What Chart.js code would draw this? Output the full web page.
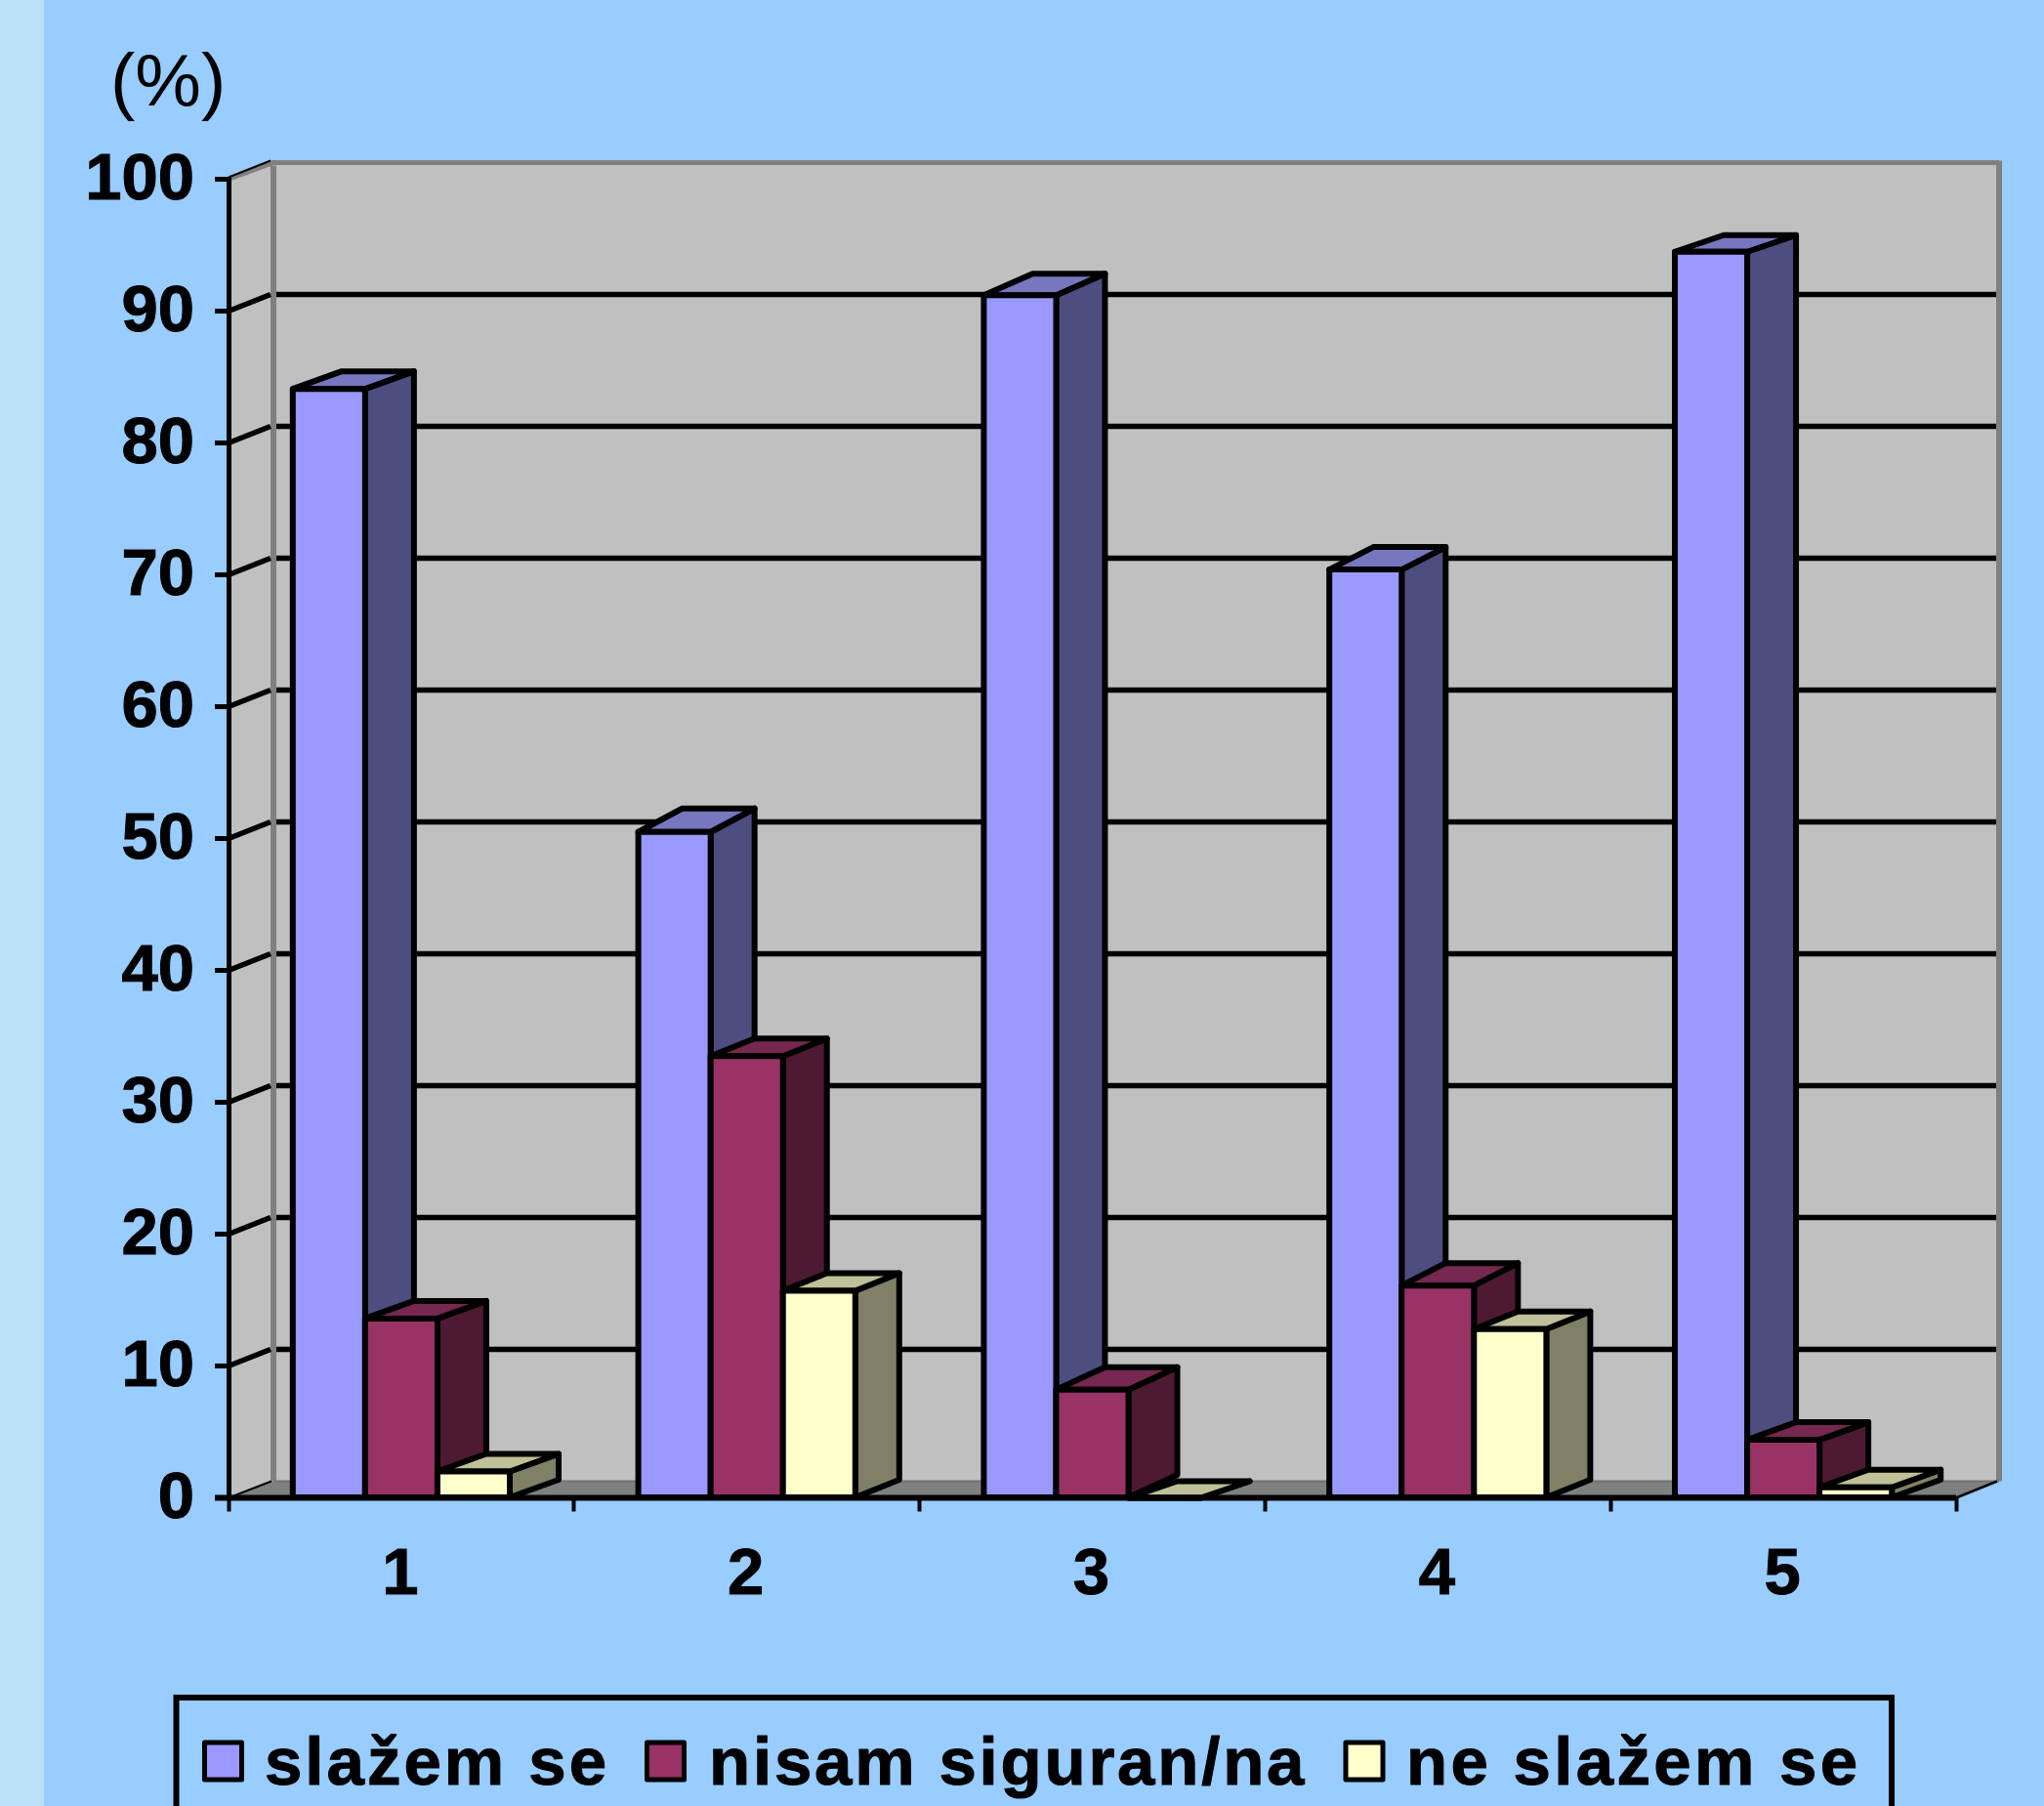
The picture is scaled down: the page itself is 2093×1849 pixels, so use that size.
<!DOCTYPE html>
<html><head><meta charset="utf-8">
<style>html,body{margin:0;padding:0;background:#99CCFF;width:2093px;height:1849px;overflow:hidden}canvas{display:block}</style>
<script src="https://cdn.jsdelivr.net/npm/chart.js@4"></script></head>
<body><canvas id="c" width="2093" height="1849"></canvas>
<script>
const categories = ['1','2','3','4','5'];
const seriesNames = ['slažem se','nisam siguran/na','ne slažem se'];
const agree = [84.1,50.5,91.2,70.4,94.5];
const unsure = [13.6,33.5,8.2,16.1,4.4];
const disagree = [2,15.7,0,12.8,0.8];
const yMax = 100, yStep = 10, unit = '(%)';

const FONT = '"Liberation Sans", Arial, sans-serif';
const BLACK = '#000000';
const faces = [
  {front:'#9999FF', side:'#4D4D80', top:'#7777C0'},
  {front:'#993366', side:'#4D1933', top:'#762850'},
  {front:'#FFFFCC', side:'#808066', top:'#C0C099'}
];
// Apparent depth of the extruded bars, per category and per series (drawing style only)
const depthX = [50,45,50,45,50];
const depthY = [[18,18,18],[24,18,18],[22,23,17],[23,23,18],[17,18,18]];
const WALL = {dx:46, dxRight:44, dy:17, fill:'#C0C0C0', edge:'#808080', floor:'#808080'};
const BAR_LINE = 6;

function poly(ctx, pts, fill, stroke, lw){
  ctx.beginPath();
  pts.forEach((p,i)=> i?ctx.lineTo(p[0],p[1]):ctx.moveTo(p[0],p[1]));
  ctx.closePath();
  if(fill){ctx.fillStyle=fill;ctx.fill();}
  if(stroke){ctx.strokeStyle=stroke;ctx.lineWidth=lw;ctx.lineJoin='round';ctx.stroke();}
}
function seg(ctx,x1,y1,x2,y2,c,w){ctx.beginPath();ctx.moveTo(x1,y1);ctx.lineTo(x2,y2);ctx.strokeStyle=c;ctx.lineWidth=w;ctx.lineCap='butt';ctx.stroke();}

const scene3d = {
  id:'scene3d',
  afterLayout(chart){
    // the unit label starts left of the axis column, over the tick labels
    if(chart.titleBlock) chart.titleBlock.left = 113;
  },
  beforeDraw(chart){
    const {ctx,chartArea:a,scales:{y}} = chart, d=WALL;
    ctx.save();
    ctx.fillStyle='#99CCFF';ctx.fillRect(0,0,chart.width,chart.height);
    ctx.fillStyle='#BBE2F9';ctx.fillRect(0,0,45,chart.height);
    const bl=a.left+d.dx, br=a.right+d.dxRight, bt=a.top-d.dy, bb=a.bottom-d.dy;
    poly(ctx,[[a.left,a.top],[bl,bt],[bl,bb],[a.left,a.bottom]],d.fill);
    poly(ctx,[[bl,bt],[br,bt],[br,bb],[bl,bb]],d.fill);
    poly(ctx,[[a.left,a.bottom],[bl,bb],[br,bb],[a.right,a.bottom]],d.floor);
    seg(ctx,bl,bb,br,bb,'#707070',2);
    seg(ctx,bl,bt+3,bl,bb,d.edge,6);
    seg(ctx,a.left,a.top,bl,bt,d.edge,5);
    seg(ctx,a.left,a.top-2,bl-3,bt-2,BLACK,2);
    seg(ctx,bl-3,bt,br,bt,d.edge,5);
    seg(ctx,br,bt-2,br,bb,d.edge,6);
    seg(ctx,a.left,a.bottom,bl-2,bb,BLACK,2);
    seg(ctx,a.right,a.bottom,br-2,bb,BLACK,2.5);
    y.ticks.forEach(t=>{
      if(t.value===0||t.value===yMax) return;
      const py=y.getPixelForValue(t.value);
      seg(ctx,a.left,py,bl-3,py-d.dy,BLACK,5.5);
      seg(ctx,bl+3,py-d.dy,br-3,py-d.dy,BLACK,5.5);
    });
    ctx.restore();
  },
  // Painter's order: first series at the back, so that each later series hides the side faces behind it.
  beforeDatasetsDraw(chart){
    const {ctx}=chart;
    chart.data.datasets.forEach((ds,di)=>{
      const meta=chart.getDatasetMeta(di), f=faces[di];
      ctx.save();
      meta.data.forEach((bar,i)=>{
        const hw=bar.width/2, L=bar.x-hw, R=bar.x+hw, T=bar.y, B=bar.base, dx=depthX[i], dy=depthY[i][di];
        poly(ctx,[[R,T],[R+dx,T-dy],[R+dx,B-dy],[R,B]],f.side,BLACK,BAR_LINE);
        poly(ctx,[[L,T],[L+dx,T-dy],[R+dx,T-dy],[R,T]],f.top,BLACK,BAR_LINE);
      });
      meta.controller.draw();
      meta.data.forEach(bar=>{
        const hw=bar.width/2;
        poly(ctx,[[bar.x-hw,bar.y],[bar.x+hw,bar.y],[bar.x+hw,bar.base],[bar.x-hw,bar.base]],null,BLACK,BAR_LINE);
      });
      ctx.restore();
    });
  },
  beforeDatasetDraw(){ return false; },
  afterDatasetsDraw(chart){
    const {ctx,chartArea:a}=chart;
    ctx.save();
    seg(ctx,a.left-14,a.bottom,a.right,a.bottom,BLACK,6);
    const bx=180.5, by=1738, br=1937;
    ctx.strokeStyle=BLACK;ctx.lineWidth=6;ctx.lineJoin='miter';
    ctx.beginPath();ctx.moveTo(bx,chart.height+10);ctx.lineTo(bx,by);ctx.lineTo(br,by);ctx.lineTo(br,chart.height+10);ctx.stroke();
    const swatchX=[209.5,662.5,1378], textX=[271,726,1440];
    const spacing=['3px','2.8px','3.3px'];
    ctx.font='bold 69px '+FONT;ctx.textBaseline='alphabetic';ctx.textAlign='left';
    chart.data.datasets.forEach((ds,i)=>{
      ctx.letterSpacing=spacing[i];
      ctx.fillStyle=ds.backgroundColor;ctx.fillRect(swatchX[i],1784,38,38);
      ctx.strokeStyle=BLACK;ctx.lineWidth=5;ctx.lineJoin='round';ctx.strokeRect(swatchX[i],1784,38,38);
      ctx.fillStyle=BLACK;ctx.fillText(ds.label,textX[i],1827);
      ctx.strokeStyle=BLACK;ctx.lineWidth=1;ctx.strokeText(ds.label,textX[i],1827);
    });
    ctx.restore();
  }
};

new Chart(document.getElementById('c'),{
  type:'bar',
  data:{labels:categories,datasets:[
    {label:seriesNames[0],data:agree,backgroundColor:faces[0].front,borderWidth:0},
    {label:seriesNames[1],data:unsure,backgroundColor:faces[1].front,borderWidth:0},
    {label:seriesNames[2],data:disagree,backgroundColor:faces[2].front,borderWidth:0}
  ]},
  plugins:[scene3d],
  options:{
    responsive:false,animation:false,
    layout:{padding:{left:40,right:90,top:0,bottom:0}},
    datasets:{bar:{barPercentage:1,categoryPercentage:0.628}},
    plugins:{
      legend:{display:false},tooltip:{enabled:false},
      title:{display:true,text:unit,align:'start',color:BLACK,
        font:{family:FONT,size:76,weight:'normal',lineHeight:1.2},
        padding:{top:41,bottom:51.3}}
    },
    scales:{
      x:{
        afterFit(s){s.height=315.5;},
        border:{display:false},
        grid:{display:true,drawOnChartArea:false,drawTicks:true,tickLength:14,tickWidth:4,tickColor:BLACK,offset:true},
        ticks:{color:BLACK,font:{family:FONT,size:67,weight:'bold'},padding:26,maxRotation:0,labelOffset:-1,textStrokeColor:BLACK,textStrokeWidth:1}
      },
      y:{
        min:0,max:yMax,
        afterFit(s){s.width=194;},
        border:{display:true,color:BLACK,width:5},
        grid:{display:true,drawOnChartArea:false,drawTicks:true,tickLength:14,tickWidth:5,tickColor:BLACK},
        ticks:{stepSize:yStep,color:BLACK,font:{family:FONT,size:67,weight:'bold'},padding:21,labelOffset:2,textStrokeColor:BLACK,textStrokeWidth:1}
      }
    }
  }
});
</script></body></html>
